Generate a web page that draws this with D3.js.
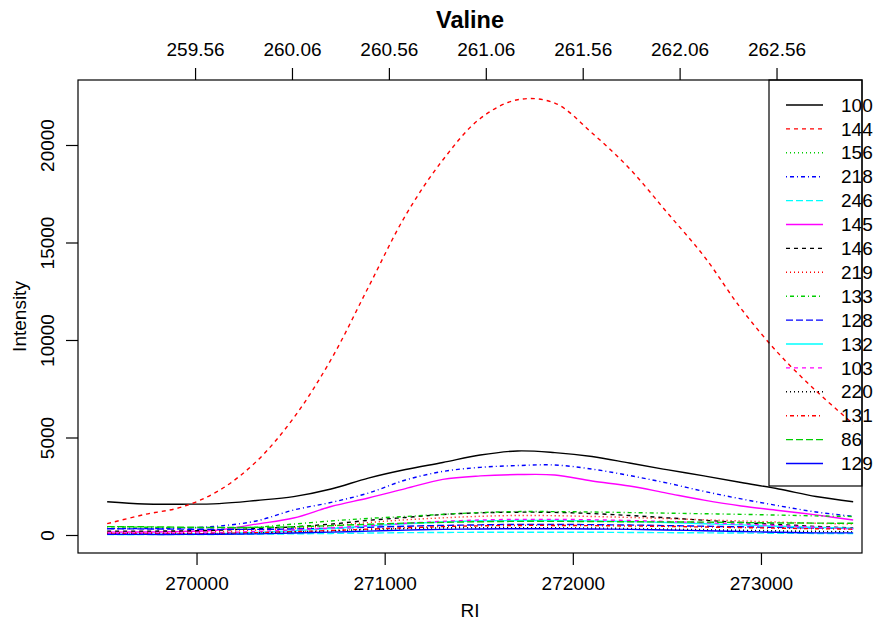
<!DOCTYPE html>
<html>
<head>
<meta charset="utf-8">
<script src="https://cdn.jsdelivr.net/npm/d3@7"></script>
<style>
  html, body { margin: 0; padding: 0; background: #fff; }
  svg { display: block; font-family: "Liberation Sans", Arial, Helvetica, sans-serif; }
</style>
</head>
<body>
<svg id="chart" width="875" height="621"></svg>
<script>
// ---------------- data ----------------
const title = "Valine";
const xLabel = "RI";
const yLabel = "Intensity";
const ri = [269525, 269723, 269922, 270120, 270318, 270516, 270715, 270913, 271111, 271309,
            271508, 271706, 271904, 272102, 272301, 272499, 272697, 272895, 273094, 273292, 273490];
const seriesNames = ["100","144","156","218","246","145","146","219","133","128","132","103","220","131","86","129"];
const s100 = [1708,1590,1580,1610,1770,1970,2360,2920,3360,3720,4100,4310,4225,4025,3690,3350,3030,2690,2360,1975,1708];
const s144 = [580,1050,1436,2282,3770,6000,9000,12700,16390,19230,21360,22320,22150,20615,18795,16560,14300,11600,9300,7400,5700];
const s156 = [40,40,40,60,90,140,200,260,310,340,360,370,370,360,340,310,280,250,220,190,170];
const s218 = [330,330,360,460,720,1280,1670,2150,2820,3260,3470,3560,3590,3380,3050,2670,2240,1850,1500,1180,960];
const s246 = [20,20,20,30,40,60,80,100,120,130,140,140,140,140,130,120,110,100,90,80,70];
const s145 = [150,155,180,260,560,870,1460,1900,2380,2850,3030,3100,3080,2770,2510,2150,1790,1490,1260,1030,770];
const s146 = [200,200,210,250,330,420,560,750,900,1050,1140,1170,1160,1100,1000,880,760,640,540,440,360];
const s219 = [120,120,130,170,250,350,480,640,780,880,960,1000,990,950,900,840,780,720,660,600,560];
const s133 = [420,400,380,370,400,560,720,850,950,1060,1150,1200,1200,1180,1150,1120,1090,1060,1020,980,950];
const s128 = [320,310,300,290,290,310,350,400,450,490,520,540,540,530,510,480,450,420,390,360,330];
const s132 = [30,30,40,70,130,220,330,460,580,670,730,740,740,720,690,640,580,520,450,390,340];
const s103 = [80,80,90,120,180,260,360,480,600,700,770,800,800,780,740,690,630,560,480,400,300];
const s220 = [60,60,60,80,110,160,220,290,340,370,380,380,370,350,320,290,260,230,200,180,160];
const s131 = [50,50,60,80,120,170,230,300,370,430,470,490,490,480,460,440,410,380,350,320,300];
const s86  = [430,420,400,390,390,420,480,550,610,650,680,700,700,690,680,670,660,640,620,610,600];
const s129 = [30,30,30,40,60,100,150,200,250,290,310,320,320,310,290,260,220,180,140,110,110];
const seriesValues = [s100,s144,s156,s218,s246,s145,s146,s219,s133,s128,s132,s103,s220,s131,s86,s129];
const xTicks = [270000, 271000, 272000, 273000];
const yTicks = [0, 5000, 10000, 15000, 20000];
const topTicks = [259.56, 260.06, 260.56, 261.06, 261.56, 262.06, 262.56];

// ---------------- styles (R matplot defaults) ----------------
const palette = ["#000000", "#FF0000", "#00CD00", "#0000FF", "#00FFFF", "#FF00FF"];
const dashes = ["none", "4,4", "1,3", "1,3,4,3", "7,3"];

// ---------------- layout ----------------
const L = 78, R = 862, T = 80, B = 553;
const fs = 19;
const lw = 1.4;
const svg = d3.select("#chart");

const x = d3.scaleLinear().domain([269370, 273537]).range([L, R]);
const y = d3.scaleLinear().domain([-923, 23333]).range([B, T]);
const xTop = d3.scaleLinear().domain([258.956, 263.001]).range([L, R]);

// lines
const line = d3.line()
  .x((d, i) => x(ri[i]))
  .y(d => y(d))
  .curve(d3.curveCatmullRom.alpha(0.5));

const g = svg.append("g");
seriesValues.forEach((vals, k) => {
  g.append("path")
    .attr("d", line(vals))
    .attr("fill", "none")
    .attr("stroke", palette[k % 6])
    .attr("stroke-width", lw)
    .attr("stroke-dasharray", dashes[k % 5]);
});

// box
svg.append("rect")
  .attr("x", L).attr("y", T).attr("width", R - L).attr("height", B - T)
  .attr("fill", "none").attr("stroke", "#000").attr("stroke-width", 1.2);

// axes
function styleAxis(sel) {
  sel.select(".domain").remove();
  sel.selectAll(".tick line").attr("stroke", "#000").attr("stroke-width", 1.2);
  sel.selectAll(".tick text").attr("fill", "#000").style("font-size", fs + "px");
}

const ax = svg.append("g").attr("transform", `translate(0,${B})`)
  .call(d3.axisBottom(x).tickValues(xTicks).tickSize(12).tickPadding(12).tickFormat(d3.format("d")));
styleAxis(ax);

const at = svg.append("g").attr("transform", `translate(0,${T})`)
  .call(d3.axisTop(xTop).tickValues(topTicks).tickSize(12).tickPadding(12).tickFormat(d3.format(".2f")));
styleAxis(at);

const ay = svg.append("g").attr("transform", `translate(${L},0)`)
  .call(d3.axisLeft(y).tickValues(yTicks).tickSize(12).tickFormat(d3.format("d")));
styleAxis(ay);
ay.selectAll(".tick text")
  .attr("transform", "rotate(-90)")
  .attr("text-anchor", "middle")
  .attr("x", 0)
  .attr("y", -31)
  .attr("dy", "0.35em");

// titles
svg.append("text").attr("x", (L + R) / 2).attr("y", 28)
  .attr("text-anchor", "middle").style("font-size", "23.5px").style("font-weight", "bold")
  .text(title);
svg.append("text").attr("x", (L + R) / 2).attr("y", 617)
  .attr("text-anchor", "middle").style("font-size", fs + "px").text(xLabel);
svg.append("text")
  .attr("transform", `translate(26,${(T + B) / 2}) rotate(-90)`)
  .attr("text-anchor", "middle").style("font-size", fs + "px").text(yLabel);

// legend
const lgX0 = 769, lgY0 = T, lgY1 = 486;
svg.append("rect")
  .attr("x", lgX0).attr("y", lgY0).attr("width", R - lgX0).attr("height", lgY1 - lgY0)
  .attr("fill", "none").attr("stroke", "#000").attr("stroke-width", 1.2);
seriesNames.forEach((name, k) => {
  const yy = 105 + k * 23.9;
  svg.append("line")
    .attr("x1", 786).attr("x2", 823).attr("y1", yy).attr("y2", yy)
    .attr("stroke", palette[k % 6]).attr("stroke-width", lw)
    .attr("stroke-dasharray", dashes[k % 5]);
  svg.append("text").attr("x", 841).attr("y", yy).attr("dy", "0.35em")
    .style("font-size", fs + "px").text(name);
});
</script>
</body>
</html>
